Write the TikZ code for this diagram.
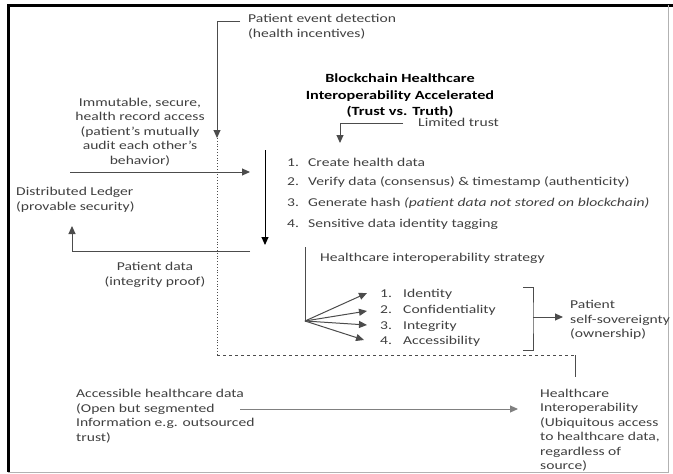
\documentclass[tikz,border=0pt]{standalone}
\usepackage{fontspec}
\setmainfont[FakeStretch=1.3]{Carlito}
\usepackage{tikz}
\usetikzlibrary{arrows.meta,calc,positioning}

\definecolor{txtgray}{gray}{0.25}
\definecolor{linegray}{gray}{0.3}

\begin{document}
\begin{tikzpicture}[
          x=1pt, y=-1pt,
          txt/.style={inner sep=0pt, text=txtgray, font=\fontsize{12}{14.5}\selectfont},
          ttl/.style={txt, align=center, text=black, font=\fontsize{12.5}{16.5}\selectfont\bfseries},
          arr/.style={-{Triangle[length=8pt, width=7pt]}, line width=1pt, draw=linegray},
          ln/.style={line width=1pt, draw=linegray}
      ]
        \useasboundingbox (0,0) rectangle (673,474);
        % frame
        \draw[line width=3pt] (8,472) -- (8,5) -- (673,5);
        \draw[gray!60, line width=1pt] (8,472) -- (668,472) -- (668,5);

        % texts
        \node[txt, anchor=north west, align=left] (evt) at (248,14) {Patient event detection\\(health incentives)};
        \node[txt, align=center] (imm) at (140,132) {Immutable, secure,\\health record access\\(patient's mutually\\audit each other's\\behavior)};
        \node[txt, anchor=west, align=left] (ledger) at (16,200) {Distributed Ledger\\(provable security)};
        \node[txt, align=center] (pdata) at (155,275) {Patient data\\(integrity proof)};
        \node[ttl] (title) at (400,96) {Blockchain Healthcare\\Interoperability Accelerated\\(Trust vs. Truth)};
        \node[txt, anchor=west] (limited) at (418,122) {Limited trust};

        \node[txt, anchor=west] (c1) at (287,162) {\makebox[21pt][l]{1.}Create health data};
        \node[txt, anchor=west] (c2) at (287,182) {\makebox[21pt][l]{2.}Verify data (consensus) \& timestamp (authenticity)};
        \node[txt, anchor=west] (c3) at (287,203) {\makebox[21pt][l]{3.}Generate hash \textit{(patient data not stored on blockchain)}};
        \node[txt, anchor=west] (c4) at (287,224) {\makebox[21pt][l]{4.}Sensitive data identity tagging};

        \node[txt, anchor=west] (strategy) at (320,258) {Healthcare interoperability strategy};
        \node[txt, anchor=west] (s1) at (380,294) {\makebox[23pt][l]{1.}Identity};
        \node[txt, anchor=west] (s2) at (380,310) {\makebox[23pt][l]{2.}Confidentiality};
        \node[txt, anchor=west] (s3) at (380,326) {\makebox[23pt][l]{3.}Integrity};
        \node[txt, anchor=west] (s4) at (380,341) {\makebox[23pt][l]{4.}Accessibility};

        \node[txt, anchor=west, align=left] (owner) at (570,320) {Patient\\self-sovereignty\\(ownership)};
        \node[txt, anchor=west, align=left] (access) at (76,416) {Accessible healthcare data\\(Open but segmented\\Information e.g. outsourced\\trust)};
        \node[txt, anchor=west, align=left] (interop) at (540,430) {Healthcare\\Interoperability\\(Ubiquitous access\\to healthcare data,\\regardless of\\source)};

        % connector points
        \coordinate (evtA) at (240,21);
        \coordinate (evtB) at (217,138);
        \coordinate (dotB) at (217,355);
        \coordinate (dashE) at (575,355);
        \coordinate (hiT) at (575,377);
        \coordinate (immA) at (70,172);
        \coordinate (immB) at (250,172);
        \coordinate (pdA) at (250,251);
        \coordinate (pdB) at (72,226);
        \coordinate (chainT) at (265,150);
        \coordinate (chainB) at (265,245);
        \coordinate (limA) at (403,123);
        \coordinate (limB) at (340,143);
        \coordinate (fanT) at (305,247);
        \coordinate (fanO) at (305,321);
        \coordinate (brT) at (523,287);
        \coordinate (brB) at (523,350);
        \coordinate (brM) at (533,317);
        \coordinate (ownA) at (563,317);
        \coordinate (accA) at (240,409);
        \coordinate (accB) at (518,409);

        % connectors
        \draw[arr] (evtA) -| (evtB);
        \draw[ln, line width=0.8pt, dotted] (evtB) -- (dotB);
        \draw[ln, line width=0.8pt, dashed] (dotB) -- (dashE);
        \draw[ln] (dashE) -- (hiT);
        \draw[arr] (immA) -- (immB);
        \draw[arr] (pdA) -| (pdB);
        \draw[arr, draw=black] (chainT) -- (chainB);
        \draw[arr] (limA) -| (limB);
        \draw[ln] (fanT) -- (fanO);
        \draw[arr] (fanO) -- (367,293);
        \draw[arr] (fanO) -- (367,311);
        \draw[arr] (fanO) -- (367,325);
        \draw[arr] (fanO) -- (364,340);
        \draw[ln] (brT) -| (brM) |- (brB);
        \draw[arr] (brM) -- (ownA);
        \draw[arr, draw=gray] (accA) -- (accB);
      \end{tikzpicture}
\end{document}
